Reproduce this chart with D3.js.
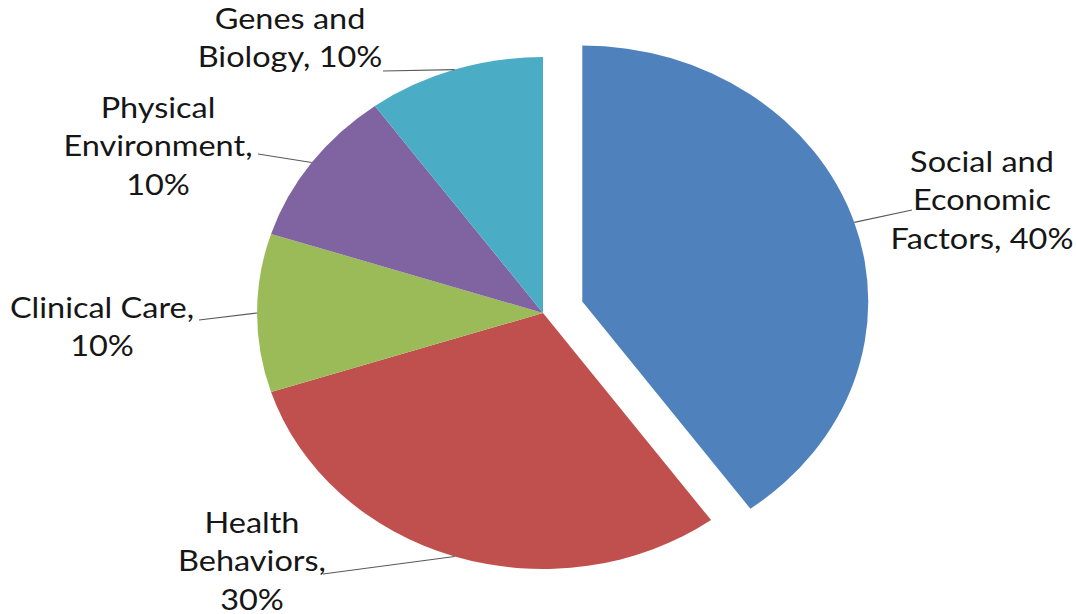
<!DOCTYPE html>
<html>
<head>
<meta charset="utf-8">
<script src="https://cdn.jsdelivr.net/npm/d3@7"></script>
<style>
  html, body { margin: 0; padding: 0; background: #fff; }
  svg { display: block; }
  .Pie-label { font-family: Lato, "Open Sans", sans-serif; font-size: 28px; fill: #161616; }
  .Pie-leader { stroke: #595959; stroke-width: 1.2; fill: none; }
</style>
</head>
<body>
<script>
const categories = ["Social and Economic Factors", "Health Behaviors", "Clinical Care", "Physical Environment", "Genes and Biology"];
const values = [40, 30, 10, 10, 10];
const labelLines = [
  ["Social and", "Economic", "Factors, 40%"],
  ["Health", "Behaviors,", "30%"],
  ["Clinical Care,", "10%"],
  ["Physical", "Environment,", "10%"],
  ["Genes and", "Biology, 10%"]
];
const colors = ["#4f81bd", "#c0504d", "#9bbb59", "#8064a2", "#4bacc6"];
const exploded = [true, false, false, false, false];

// label placement: text centre x, first baseline y, leader end point
const labelLayout = [
  { x: 982, y: 172, lx: 912, ly: 210 },
  { x: 252, y: 533, lx: 323, ly: 574 },
  { x: 102, y: 318, lx: 199, ly: 320 },
  { x: 158, y: 118, lx: 258, ly: 154 },
  { x: 290, y: 29, lx: 383, ly: 71 }
];

const width = 1076, height = 614;
const cx = 543, cy = 313;
const radius = 256;
const stretch = 1.117;
const textStretch = 1.16;
const explodeBy = 37;
const lineHeight = 38.3;

const svg = d3.select("body").append("svg")
  .attr("width", width)
  .attr("height", height);

const pie = d3.pie().sort(null).value((d) => d.value);
const arc = d3.arc().innerRadius(0).outerRadius(radius);

const slices = pie(categories.map((c, i) => ({ name: c, value: values[i], i: i })));

const midAngle = (d) => (d.startAngle + d.endAngle) / 2;
const offset = (d) => {
  if (!exploded[d.data.i]) return [0, 0];
  const a = midAngle(d);
  return [Math.sin(a) * explodeBy, -Math.cos(a) * explodeBy];
};

const pieG = svg.append("g")
  .attr("transform", "translate(" + cx + "," + cy + ") scale(" + stretch + ",1)");

pieG.selectAll("path")
  .data(slices)
  .enter()
  .append("path")
  .attr("class", "Pie-slice")
  .attr("transform", (d) => "translate(" + offset(d) + ")")
  .attr("d", arc)
  .attr("fill", (d) => colors[d.data.i]);

// leader lines from the slice edge at its mid angle to the label
svg.selectAll(".Pie-leader")
  .data(slices)
  .enter()
  .append("line")
  .attr("class", "Pie-leader")
  .attr("x1", (d) => cx + (offset(d)[0] + Math.sin(midAngle(d)) * radius) * stretch)
  .attr("y1", (d) => cy + offset(d)[1] - Math.cos(midAngle(d)) * radius)
  .attr("x2", (d) => labelLayout[d.data.i].lx)
  .attr("y2", (d) => labelLayout[d.data.i].ly);

const labels = svg.selectAll(".Pie-label")
  .data(slices)
  .enter()
  .append("text")
  .attr("class", "Pie-label")
  .attr("text-anchor", "middle")
  .attr("transform", (d) => "translate(" + labelLayout[d.data.i].x + "," + labelLayout[d.data.i].y + ") scale(" + textStretch + ",1)");

labels.selectAll("tspan")
  .data((d) => labelLines[d.data.i].map((t, k) => ({ t: t, k: k })))
  .enter()
  .append("tspan")
  .attr("x", 0)
  .attr("y", (d) => d.k * lineHeight)
  .text((d) => d.t);
</script>
</body>
</html>
